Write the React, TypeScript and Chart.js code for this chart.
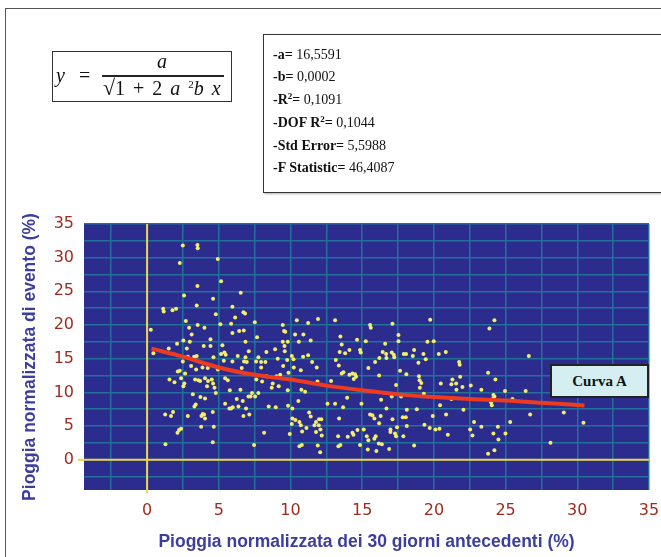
import React, { useEffect, useRef } from "react";
import { Chart, registerables } from "chart.js";

Chart.register(...registerables);

// Antecedent 30-day normalized rain (%) — x of each observed event
const rainX = [
  2.49, 3.51, 3.53, 2.28, 4.93, 3.51, 5.16, 2.58, 6.53, 4.6, 3.46, 1.12, 1.16, 1.77, 2.02, 4.79, 5.95, 6.14, 2.7, 3.53,
  2.93, 4.0, 5.11, 5.86, 0.26, 6.74, 6.42, 5.95, 3.11, 2.53, 4.42, 2.98, 2.09, 3.95, 4.42, 5.25, 1.51, 2.77, 0.44, 3.28,
  3.46, 2.84, 4.63, 5.39, 5.16, 5.48, 6.32, 2.49, 5.35, 5.95, 3.07, 3.86, 4.23, 3.42, 4.93, 2.28, 2.14, 2.65, 2.37, 1.56,
  1.91, 3.35, 3.58, 4.04, 4.25, 2.6, 3.7, 4.51, 5.44, 5.63, 2.53, 4.18, 4.6, 4.7, 4.79, 5.77, 3.19, 3.72, 4.04, 6.25,
  5.44, 3.39, 3.3, 5.97, 5.86, 5.74, 6.37, 1.26, 1.67, 1.81, 2.84, 3.88, 3.79, 3.97, 4.04, 4.58, 3.77, 4.65, 2.37, 2.23,
  2.12, 4.58, 1.28,
  6.72, 6.83, 7.51, 9.46, 9.55, 9.64, 10.44, 11.23, 11.92, 7.67, 10.32, 10.9, 6.86, 9.46, 9.81, 10.58, 11.41, 9.58, 7.09, 8.32,
  8.93, 9.6, 6.86, 6.76, 6.95, 7.76, 7.6, 7.95, 8.25, 9.11, 9.77, 10.21, 10.09, 10.88, 11.51, 11.23, 6.6, 7.95, 9.49, 10.23,
  10.72, 11.83, 8.34, 9.02, 9.28, 9.86, 7.62, 8.02, 8.76, 8.69, 9.18, 11.88, 12.83, 10.76, 6.51, 7.32, 7.07, 7.21, 7.53, 7.76,
  9.81, 11.02, 6.67, 10.55, 12.58, 6.9, 8.48, 8.97, 9.83, 10.13, 11.3, 11.41, 6.72, 7.13, 10.13, 10.34, 10.09, 10.62, 11.99, 12.15,
  11.78, 11.67, 11.11, 10.72, 11.97, 12.09, 8.16, 9.95, 10.81, 11.78, 12.18, 10.79, 10.62, 11.9, 7.46, 12.07,
  13.11, 15.55, 15.6, 17.11, 13.48, 13.57, 14.64, 15.25, 17.53, 17.53, 16.6, 19.55, 19.99, 13.43, 13.81, 14.11, 14.85, 14.9, 13.16, 13.37,
  16.2, 15.9, 16.43, 16.67, 16.69, 17.06, 17.2, 17.24, 17.9, 18.06, 18.62, 18.53, 19.27, 18.92, 19.43, 15.43, 17.64, 18.08, 18.96, 19.0,
  19.12, 19.02, 13.57, 13.69, 14.11, 14.32, 14.5, 14.57, 14.41, 16.18, 17.36, 17.06, 17.71, 19.3, 13.95, 14.95, 13.11, 13.67, 16.32, 16.69,
  18.11, 18.81, 15.55, 15.71, 15.85, 16.29, 17.11, 17.83, 18.04, 13.39, 16.18, 18.11, 19.34, 19.71, 14.67, 15.11, 16.97, 17.43, 13.32, 13.99,
  14.32, 14.39, 15.32, 15.94, 15.85, 16.97, 17.29, 17.36, 17.87, 13.34, 13.48, 14.85, 15.43, 16.16, 16.37, 16.88, 18.62, 15.39, 15.99, 19.74,
  24.22, 23.87, 20.34, 20.83, 21.76, 21.8, 26.62, 23.78, 24.29, 20.48, 21.29, 21.22, 21.55, 21.57, 21.83, 21.99, 22.57, 23.31, 24.96, 26.4,
  24.15, 24.22, 24.11, 23.99, 24.04, 25.48, 21.22, 20.43, 22.06, 20.85, 19.92, 26.71, 22.8, 23.31, 25.32, 24.46, 20.11, 20.39, 22.53, 24.15,
  24.99, 20.97, 22.69, 24.5, 24.22, 23.78,
  29.06, 30.43, 28.13,
];

// Event normalized rain (%) — y of each observed event
const rainY = [
  31.8, 31.9, 31.4, 29.2, 29.8, 25.8, 26.5, 24.4, 24.8, 23.9, 22.9, 22.4, 22.0, 22.2, 22.4, 21.6, 22.7, 21.1, 20.6, 20.0,
  19.6, 19.6, 20.1, 20.2, 19.3, 19.2, 19.1, 18.8, 18.6, 17.7, 17.9, 17.5, 17.2, 16.9, 16.9, 17.0, 16.5, 16.5, 15.8, 15.3,
  15.4, 15.3, 15.2, 15.9, 15.7, 15.6, 15.4, 14.6, 14.7, 14.6, 13.9, 13.7, 13.6, 13.4, 13.4, 13.2, 13.1, 12.8, 12.1, 11.9,
  11.5, 11.9, 11.8, 12.1, 11.7, 11.3, 11.7, 11.9, 12.1, 11.8, 10.9, 10.9, 11.3, 10.7, 9.9, 10.3, 9.7, 9.3, 9.1, 9.0,
  8.3, 8.2, 7.9, 7.8, 7.6, 7.6, 7.9, 6.7, 6.5, 7.1, 6.5, 6.8, 6.5, 6.7, 6.1, 7.1, 4.9, 4.9, 4.6, 4.4,
  4.0, 2.6, 2.3,
  21.9, 21.7, 20.4, 20.0, 19.1, 19.0, 20.7, 20.3, 20.9, 18.2, 18.6, 18.6, 17.5, 17.5, 17.5, 17.5, 17.7, 16.9, 16.1, 16.0,
  16.4, 16.1, 15.2, 14.6, 14.5, 15.2, 14.6, 14.5, 14.5, 15.0, 14.8, 14.9, 15.4, 15.3, 14.5, 15.5, 13.6, 13.7, 13.9, 13.7,
  13.3, 13.7, 12.4, 12.4, 12.6, 12.9, 11.9, 11.6, 11.3, 10.7, 10.9, 11.6, 11.7, 10.4, 10.4, 9.9, 9.4, 9.4, 9.4, 9.9,
  10.3, 10.1, 8.7, 8.7, 8.3, 7.6, 7.9, 7.8, 8.0, 7.6, 7.0, 6.4, 6.5, 6.7, 6.1, 5.9, 5.3, 5.6, 6.0, 6.0,
  5.6, 5.1, 4.7, 5.1, 5.1, 4.5, 4.0, 3.8, 4.2, 4.1, 3.6, 2.2, 2.0, 2.1, 2.2, 1.1,
  20.7, 20.0, 19.6, 20.2, 18.3, 17.1, 17.8, 17.6, 18.5, 17.6, 17.2, 17.5, 17.6, 16.0, 15.8, 16.3, 16.3, 15.9, 14.8, 14.0,
  15.1, 14.5, 16.0, 15.7, 15.1, 15.9, 15.6, 15.2, 15.7, 15.7, 16.3, 15.4, 15.7, 14.4, 14.9, 13.6, 13.2, 12.7, 12.4, 11.8,
  11.4, 10.7, 12.8, 13.0, 12.6, 12.8, 12.7, 12.3, 12.0, 12.5, 11.1, 9.4, 9.4, 9.8, 9.2, 8.3, 8.3, 7.8, 8.9, 7.6,
  7.4, 7.5, 6.7, 6.6, 6.1, 6.5, 6.0, 6.3, 6.3, 6.1, 5.4, 5.0, 5.2, 4.7, 4.4, 4.5, 4.5, 4.8, 3.5, 3.4,
  4.0, 3.7, 3.5, 3.5, 3.1, 4.1, 3.9, 3.5, 3.5, 2.0, 2.2, 2.2, 2.9, 2.4, 2.3, 1.6, 2.1, 1.5, 1.3, 20.8,
  20.7, 19.5, 15.7, 16.0, 14.5, 14.1, 15.4, 12.9, 11.9, 11.3, 11.9, 11.2, 11.3, 10.4, 12.3, 10.8, 11.0, 10.4, 10.2, 10.2,
  9.6, 9.4, 9.0, 8.5, 8.1, 9.0, 9.0, 8.1, 7.4, 6.7, 6.5, 6.7, 5.6, 4.9, 5.6, 4.9, 4.5, 4.6, 4.5, 3.9,
  3.9, 3.7, 3.6, 3.0, 1.4, 0.9,
  7.0, 5.5, 2.5,
];

// "Curva A" fitted curve
const curveX = [0.3, 2.5, 5, 7.5, 10, 12.5, 15, 17.5, 20, 22.5, 25, 27.5, 30.5];
const curveY = [16.5, 15.3, 13.7, 12.6, 11.9, 11.0, 10.3, 9.7, 9.3, 9.0, 8.8, 8.45, 8.05];

// Tick labels and grid positions
const xTickLabels = [0, 5, 10, 15, 20, 25, 30, 35];
const yTickLabels = [0, 5, 10, 15, 20, 25, 30, 35];
const xGridValues = [-2.5, 0, 2.5, 5, 7.5, 10, 12.5, 15, 17.5, 20, 22.5, 25, 27.5, 30, 32.5, 35];
const yGridValues = [-2.5, 0, 2.5, 5, 7.5, 10, 12.5, 15, 17.5, 20, 22.5, 25, 27.5, 30, 32.5, 35];

const statLabels = ["-a=", "-b=", "-R", "-DOF R", "-Std Error=", "-F Statistic="];
const statSup = [false, false, true, true, false, false];
const statValues = ["16,5591", "0,0002", "0,1091", "0,1044", "5,5988", "46,4087"];

const BG = "#2b2c8e";
const GRID = "#22709a";
const AXIS_YELLOW = "#efd54a";
const TICK_RED = "#9c2c1c";
const TITLE_BLUE = "#3c3e9e";

const plotDecor = {
  id: "plotDecor",
  beforeDraw(chart: any) {
    const { ctx, chartArea: a } = chart;
    ctx.save();
    ctx.fillStyle = BG;
    ctx.fillRect(a.left, a.top, a.right - a.left, a.bottom - a.top);
    ctx.restore();
  },
  beforeDatasetsDraw(chart: any) {
    const { ctx, chartArea: a, scales } = chart;
    const x0 = scales.x.getPixelForValue(0);
    const y0 = scales.y.getPixelForValue(0);
    ctx.save();
    ctx.strokeStyle = AXIS_YELLOW;
    ctx.lineWidth = 2;
    ctx.beginPath();
    ctx.moveTo(x0, a.top);
    ctx.lineTo(x0, a.bottom + 3);
    ctx.moveTo(a.left - 6, y0);
    ctx.lineTo(a.right, y0);
    ctx.stroke();
    ctx.restore();
  },
};

function ScatterChart() {
  const ref = useRef<HTMLCanvasElement | null>(null);
  useEffect(() => {
    if (!ref.current) return;
    const points = rainX.map((x, i) => ({ x, y: rainY[i] }));
    const curve = curveX.map((x, i) => ({ x, y: curveY[i] }));
    const chart = new Chart(ref.current, {
      type: "scatter",
      data: {
        datasets: [
          {
            type: "line",
            label: "Curva A",
            data: curve,
            borderColor: "#ee3a1f",
            borderWidth: 4,
            pointRadius: 0,
            fill: false,
            cubicInterpolationMode: "monotone",
          } as any,
          {
            label: "Eventi",
            data: points,
            pointRadius: 2,
            pointBackgroundColor: "#f3ef6a",
            pointBorderWidth: 0,
          },
        ],
      },
      options: {
        animation: false,
        responsive: false,
        devicePixelRatio: 1,
        layout: { padding: { top: 224, right: 0, left: 0, bottom: 0 } },
        plugins: { legend: { display: false }, tooltip: { enabled: false } },
        scales: {
          x: {
            type: "linear",
            min: -4.4,
            max: 35,
            afterBuildTicks: (s: any) => {
              s.ticks = xGridValues.map((v) => ({ value: v }));
            },
            afterFit: (s: any) => {
              s.height = 67;
              s.paddingRight = 12;
              s.paddingLeft = 0;
            },
            grid: { color: GRID, lineWidth: 1.5, drawTicks: false },
            border: { display: false },
            ticks: {
              autoSkip: false,
              maxRotation: 0,
              padding: 11,
              color: TICK_RED,
              font: { family: "'DejaVu Sans', sans-serif", size: 16 },
              callback: (v: any) => (xTickLabels.includes(Number(v)) ? String(v) : ""),
            },
            title: {
              display: true,
              text: "Pioggia normalizzata dei 30 giorni antecedenti (%)",
              color: TITLE_BLUE,
              font: { family: "'Liberation Sans', Arial, sans-serif", size: 17.5, weight: "bold" },
              padding: { top: 0, bottom: 4 },
            },
          },
          y: {
            type: "linear",
            min: -4.5,
            max: 35,
            afterBuildTicks: (s: any) => {
              s.ticks = yGridValues.map((v) => ({ value: v }));
            },
            afterFit: (s: any) => {
              s.width = 84;
            },
            grid: { color: GRID, lineWidth: 1.5, drawTicks: false },
            border: { display: false },
            ticks: {
              autoSkip: false,
              padding: 10,
              color: TICK_RED,
              font: { family: "'DejaVu Sans', sans-serif", size: 16 },
              callback: (v: any) => (yTickLabels.includes(Number(v)) ? String(v) : ""),
            },
            title: {
              display: true,
              text: "Pioggia normalizzata di evento (%)",
              color: TITLE_BLUE,
              font: { family: "'Liberation Sans', Arial, sans-serif", size: 17.5, weight: "bold" },
              padding: { top: 20, bottom: 0 },
            },
          },
        },
      },
      plugins: [plotDecor],
    });
    return () => chart.destroy();
  }, []);
  return <canvas ref={ref} width={661} height={557} style={{ position: "absolute", left: 0, top: 0 }} />;
}

const serif = "'Liberation Serif', 'Times New Roman', serif";

export default function App() {
  return (
    <div
      style={{
        position: "fixed",
        left: 0,
        top: 0,
        width: 661,
        height: 557,
        overflow: "hidden",
        background: "#fff",
      }}
    >
      <div
        style={{
          position: "absolute",
          left: 5,
          top: 8,
          width: 720,
          height: 640,
          border: "1.5px solid #555",
          boxSizing: "border-box",
        }}
      />
      <ScatterChart />
      {/* formula box */}
      <div
        style={{
          position: "absolute",
          left: 52,
          top: 51,
          width: 180,
          height: 51,
          border: "1.5px solid #333",
          boxSizing: "border-box",
          fontFamily: serif,
          fontSize: 20,
          color: "#111",
          background: "#fff",
        }}
      >
        <span style={{ position: "absolute", left: 3, top: 12, fontStyle: "italic" }}>y</span>
        <span style={{ position: "absolute", left: 26, top: 12 }}>=</span>
        <span style={{ position: "absolute", left: 104, top: -2, fontStyle: "italic" }}>a</span>
        <div style={{ position: "absolute", left: 49, top: 23, width: 122, height: 1.5, background: "#222" }} />
        <div style={{ position: "absolute", left: 50, top: 24, whiteSpace: "nowrap", display: "flex", alignItems: "flex-start" }}>
          <span style={{ fontSize: 22, lineHeight: "24px" }}>√</span>
          <span style={{ borderTop: "1.5px solid #222", lineHeight: "22px", wordSpacing: 3 }}>
            1 + 2 <i>a</i>{" "}
            <span style={{ fontSize: 11, position: "relative", top: -7 }}>2</span>
            <i>b</i> <i>x</i>
          </span>
        </div>
      </div>
      {/* statistics box */}
      <div
        style={{
          position: "absolute",
          left: 263,
          top: 34,
          width: 460,
          height: 159,
          border: "1.5px solid #333",
          boxSizing: "border-box",
          background: "#fff",
          boxShadow: "1px 1px 2px rgba(0,0,0,0.3)",
          fontFamily: serif,
          fontSize: 14,
          color: "#111",
          paddingLeft: 9,
          paddingTop: 8.5,
        }}
      >
        {statLabels.map((lab, i) => (
          <div key={i} style={{ height: 22.8, lineHeight: "22.8px", whiteSpace: "nowrap" }}>
            <b>
              {lab}
              {statSup[i] ? (
                <>
                  <span style={{ fontSize: 9, position: "relative", top: -5 }}>2</span>=
                </>
              ) : null}
            </b>{" "}
            {statValues[i]}
          </div>
        ))}
      </div>
      {/* Curva A label */}
      <div
        style={{
          position: "absolute",
          left: 550,
          top: 364,
          width: 99,
          height: 34,
          border: "2px solid #222",
          boxSizing: "border-box",
          background: "#d5eef2",
          fontFamily: serif,
          fontWeight: "bold",
          fontSize: 15,
          color: "#111",
          display: "flex",
          alignItems: "center",
          justifyContent: "center",
        }}
      >
        Curva A
      </div>
    </div>
  );
}
